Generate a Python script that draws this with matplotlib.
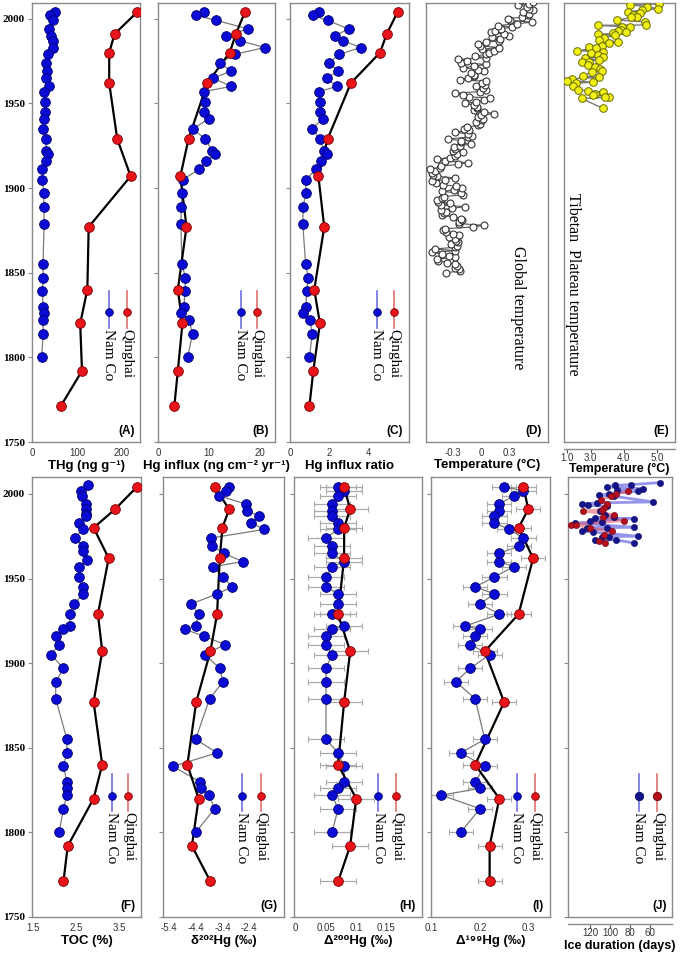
import matplotlib
matplotlib.use("Agg")
import matplotlib.pyplot as plt
import numpy as np

SANS = ["Liberation Sans", "DejaVu Sans"]
SERIF = ["Liberation Serif", "DejaVu Serif"]
plt.rcParams["font.family"] = SANS

# --- sediment core data ---
namco_years = [2004, 2002, 1999, 1994, 1990, 1987, 1983, 1979, 1974, 1969,
               1965, 1960, 1957, 1951, 1945, 1941, 1935, 1929, 1922, 1920,
               1916, 1911, 1905, 1897, 1889, 1879, 1855, 1847, 1839, 1830,
               1826, 1822, 1814, 1800]
qinghai_years = [2004, 1991, 1980, 1962, 1929, 1907, 1877, 1840, 1820, 1792, 1771]

thg_namco = [49.8, 40, 46, 36.4, 41.6, 46, 45.4, 35, 30.5, 32.7,
             30.5, 36.4, 25.3, 27.5, 27.5, 25.3, 23, 30.5, 30.5, 35,
             30.5, 22.3, 22.3, 25.3, 25.3, 26, 23.8, 23.8, 22.3, 23.8,
             25.3, 23.8, 23.8, 20.8]
thg_qinghai = [235, 184, 172, 172, 190, 220, 126, 123, 107, 111, 63]

influx_namco = [9.0, 7.5, 11.5, 17.7, 13.4, 16.1, 21.0, 15.1, 12.1, 14.4,
                10.8, 14.4, 9.0, 9.2, 9.0, 10.0, 6.9, 9.2, 10.7, 11.3,
                9.4, 8.0, 4.9, 4.7, 4.6, 4.5, 4.7, 5.4, 5.3, 5.1,
                4.5, 6.1, 6.8, 5.8]
influx_qinghai = [17.1, 15.3, 14.1, 9.7, 6.0, 4.4, 5.6, 3.9, 4.8, 3.9, 3.2]

ratio_namco = [1.50, 1.19, 1.92, 3.00, 2.30, 2.72, 3.61, 2.52, 2.01, 2.47,
               1.87, 2.38, 1.50, 1.53, 1.53, 1.70, 1.11, 1.53, 1.75, 1.87,
               1.58, 1.31, 0.82, 0.80, 0.68, 0.65, 0.80, 0.94, 0.85, 0.82,
               0.68, 1.02, 1.14, 0.99]
ratio_qinghai = [5.50, 4.94, 4.60, 3.11, 1.92, 1.45, 1.75, 1.24, 1.53, 1.19, 0.99]

toc_years = [2005, 2002, 1999, 1994, 1991, 1988, 1987, 1983, 1979, 1974,
             1969, 1966, 1961, 1957, 1951, 1945, 1941, 1935, 1929, 1922,
             1920, 1916, 1911, 1905, 1897, 1889, 1879, 1855, 1847, 1839,
             1830, 1826, 1822, 1814, 1800]
toc_namco = [2.78, 2.61, 2.63, 2.72, 2.72, 2.72, 2.72, 2.55, 2.65, 2.47,
             2.65, 2.65, 2.74, 2.55, 2.55, 2.65, 2.65, 2.45, 2.35, 2.35,
             2.20, 2.02, 2.10, 1.91, 2.20, 2.02, 2.02, 2.28, 2.28, 2.20,
             2.28, 2.28, 2.28, 2.20, 2.10]
toc_qinghai = [3.90, 3.40, 2.90, 3.25, 3.00, 3.10, 2.90, 3.10, 2.90, 2.30, 2.20]

d202_namco = [-3.15, -3.28, -3.54, -2.53, -2.50, -2.03, -2.34, -1.85, -3.81, -3.78,
              -3.35, -2.65, -3.75, -3.38, -3.03, -3.59, -4.56, -4.28, -4.40, -4.81,
              -4.10, -3.31, -4.06, -3.50, -3.38, -3.88, -4.40, -3.60, -5.25, -4.25,
              -4.21, -3.90, -3.69, -4.40]
d202_qinghai = [-3.69, -3.15, -3.40, -3.50, -3.60, -3.85, -4.38, -4.71, -4.29, -4.54, -3.85]

D200_namco = [0.07, 0.08, 0.07, 0.06, 0.06, 0.06, 0.07, 0.07, 0.05, 0.06,
              0.06, 0.08, 0.06, 0.05, 0.05, 0.07, 0.07, 0.06, 0.08, 0.06,
              0.05, 0.05, 0.06, 0.05, 0.05, 0.05, 0.05, 0.07, 0.08, 0.08,
              0.07, 0.06, 0.07, 0.06]
D200_qinghai = [0.08, 0.09, 0.08, 0.08, 0.07, 0.09, 0.08, 0.07, 0.10, 0.09, 0.07]
D200_err = 0.03

D199_namco = [0.25, 0.29, 0.27, 0.24, 0.24, 0.23, 0.23, 0.26, 0.29, 0.28,
              0.24, 0.24, 0.27, 0.23, 0.19, 0.23, 0.20, 0.24, 0.17, 0.20,
              0.19, 0.18, 0.22, 0.18, 0.15, 0.19, 0.21, 0.16, 0.21, 0.19,
              0.20, 0.12, 0.20, 0.16]
D199_qinghai = [0.29, 0.30, 0.28, 0.31, 0.28, 0.21, 0.25, 0.19, 0.24, 0.22, 0.22]
D199_err = 0.025

# --- global temperature anomaly, 1850-2012 ---
glob_years = list(range(1850, 2013))
glob_temp = [
    -0.37, -0.22, -0.23, -0.27, -0.25, -0.27, -0.36, -0.46, -0.47, -0.28,
    -0.34, -0.41, -0.52, -0.28, -0.49, -0.28, -0.25, -0.32, -0.24, -0.26,
    -0.28, -0.34, -0.23, -0.30, -0.37, -0.40, -0.38, -0.08, 0.03, -0.23,
    -0.23, -0.20, -0.21, -0.30, -0.41, -0.39, -0.37, -0.42, -0.31, -0.17,
    -0.42, -0.33, -0.46, -0.47, -0.41, -0.39, -0.19, -0.21, -0.41, -0.29,
    -0.20, -0.26, -0.40, -0.48, -0.52, -0.38, -0.28, -0.47, -0.51, -0.52,
    -0.49, -0.54, -0.44, -0.42, -0.24, -0.14, -0.38, -0.47, -0.33, -0.28,
    -0.25, -0.19, -0.30, -0.28, -0.29, -0.22, -0.11, -0.21, -0.21, -0.35,
    -0.14, -0.09, -0.14, -0.27, -0.13, -0.18, -0.15, -0.03, -0.01, -0.05,
    0.01, 0.02, -0.03, 0.00, 0.14, 0.03, -0.07, -0.04, -0.04, -0.07,
    -0.17, -0.05, 0.03, 0.10, -0.13, -0.19, -0.27, -0.01, 0.05, 0.02,
    -0.05, 0.04, 0.01, 0.05, -0.22, -0.14, -0.07, -0.07, -0.11, 0.03,
    -0.03, -0.19, -0.07, 0.06, -0.21, -0.15, -0.24, 0.05, -0.06, 0.06,
    0.09, 0.14, 0.01, 0.19, -0.01, -0.03, 0.05, 0.19, 0.20, 0.12,
    0.30, 0.25, 0.11, 0.15, 0.21, 0.33, 0.18, 0.39, 0.54, 0.31,
    0.29, 0.44, 0.50, 0.51, 0.45, 0.55, 0.51, 0.49, 0.40, 0.51,
    0.56, 0.43, 0.47]

# --- Tibetan Plateau temperature ---
tp_years = [2008.7, 2008.3, 2007.1, 2005.9, 2005.1, 2004.2, 2003.6, 2002.2, 2001.2, 2000.8,
            1999.2, 1998.2, 1996.3, 1996.1, 1995.3, 1994.9, 1993.3, 1992.7, 1992.3, 1991.3,
            1990.8, 1990.2, 1988.8, 1987.4, 1986.4, 1985.4, 1983.9, 1983.5, 1982.5, 1981.1,
            1980.5, 1979.9, 1978.4, 1977.6, 1976.6, 1975.6, 1974.6, 1974.2, 1972.4, 1971.6,
            1970.6, 1969.3, 1968.7, 1966.1, 1965.3, 1964.6, 1963.4, 1962.6, 1961.8, 1960.2,
            1958.2, 1957.5, 1956.7, 1955.5, 1955.1, 1953.9, 1953.5, 1952.9, 1947.0]
tp_temp = [5.07, 4.18, 4.70, 5.03, 4.56, 4.13, 4.48, 4.28, 4.40, 4.23,
           3.80, 4.64, 4.67, 3.21, 3.96, 4.18, 3.91, 3.83, 4.08, 3.68,
           3.23, 3.73, 3.41, 3.26, 3.81, 3.56, 3.33, 2.96, 3.16, 2.58,
           3.38, 3.01, 3.21, 3.36, 2.83, 3.26, 2.73, 2.96, 2.93, 3.13,
           3.29, 3.33, 3.03, 2.78, 3.26, 2.43, 2.28, 3.06, 2.55, 2.48,
           2.63, 2.91, 3.36, 3.13, 3.08, 3.56, 3.43, 2.73, 3.38]

# --- lake ice duration ---
ice_namco_years = [2006.7, 2005.5, 2005.1, 2004.1, 2003.1, 2002.6, 2001.6, 2000.2, 1999.2, 1998.6,
                   1995.3, 1994.7, 1994.1, 1993.3, 1992.7, 1989.8, 1987.8, 1986.2, 1985.8, 1985.4,
                   1984.2, 1983.4, 1982.9, 1980.3, 1979.9, 1979.7, 1977.9, 1977.5, 1975.0, 1974.8,
                   1974.4, 1973.0, 1972.8, 1971.0]
ice_namco_days = [50, 79, 95, 103, 67, 93, 72, 101, 111, 96,
                  57, 113, 128, 122, 103, 110, 105, 96, 115, 76,
                  120, 108, 135, 76, 123, 103, 128, 117, 72, 108,
                  101, 115, 94, 76]
ice_qinghai_years = [2001.6, 2000.0, 1998.6, 1996.6, 1994.1, 1991.7, 1990.7, 1989.8, 1987.8, 1986.2,
                     1984.2, 1981.9, 1981.6, 1979.9, 1977.9, 1976.0, 1972.0, 1971.0]
ice_qinghai_days = [82, 94, 99, 109, 103, 106, 108, 127, 96, 107,
                    86, 139, 134, 120, 98, 106, 111, 105]

# --- styling ---
FRAME = "#8a8a8a"
BLUE, BLUE_EDGE = "#0b0bd6", "#00006e"
RED, RED_EDGE = "#e8141a", "#7a0000"
W, H = 685, 956

fig = plt.figure(figsize=(W / 100, H / 100), dpi=100)


def panel(x0, x1, y0, y1):
    ax = fig.add_axes([x0 / W, 1 - y1 / H, (x1 - x0) / W, (y1 - y0) / H])
    for s in ax.spines.values():
        s.set_color(FRAME)
        s.set_linewidth(1.0)
    ax.tick_params(axis="x", length=0, pad=4, labelsize=7, labelcolor="#333333")
    ax.tick_params(axis="y", direction="out", length=3, color=FRAME, labelleft=False)
    ax.set_yticks(range(1750, 2001, 50))
    return ax


def year_labels(ax):
    ax.tick_params(axis="y", labelleft=True, labelsize=8, pad=2)
    for lbl in ax.get_yticklabels():
        lbl.set_fontfamily(SERIF)
        lbl.set_fontweight("bold")


def cores(ax, yn, vn, vq, err=None):
    if err is not None:
        ax.errorbar(vn, yn, xerr=err, fmt="none", ecolor="#ababab", elinewidth=0.9,
                    capsize=2, capthick=0.8, zorder=1)
        ax.errorbar(vq, qinghai_years, xerr=err, fmt="none", ecolor="#ababab",
                    elinewidth=0.9, capsize=2, capthick=0.8, zorder=1)
    ax.plot(vn, yn, "-", color="#7a7a7a", lw=0.9, zorder=2)
    ax.plot(vq, qinghai_years, "-", color="black", lw=1.6, zorder=3)
    ax.plot(vn, yn, "o", ms=7, mfc=BLUE, mec=BLUE_EDGE, mew=0.6, zorder=4)
    ax.plot(vq, qinghai_years, "o", ms=7, mfc=RED, mec=RED_EDGE, mew=0.6, zorder=5)


def station_key(ax, xr, xb, y, ms=5.5, mcols=((RED, RED_EDGE), (BLUE, BLUE_EDGE))):
    items = [(xr, "#e07070", mcols[0], "Qinghai"), (xb, "#7070e0", mcols[1], "Nam Co")]
    for x, lc, (fc, ec), label in items:
        ax.plot([x, x], [y - 0.035, y + 0.05], transform=ax.transAxes, color=lc,
                lw=1.2, clip_on=False, zorder=6)
        ax.plot([x], [y], "o", transform=ax.transAxes, ms=ms, mfc=fc, mec=ec,
                mew=0.6, zorder=7)
        ax.text(x, y - 0.038, label, transform=ax.transAxes, rotation=270,
                ha="center", va="top", family=SERIF, fontsize=11, zorder=7)


def tag(ax, s):
    ax.text(0.95, 0.012, s, transform=ax.transAxes, ha="right", va="bottom",
            fontweight="bold", fontsize=8.5)


def xlab(ax, s, pad=2, size=9.5):
    ax.set_xlabel(s, fontweight="bold", fontsize=size, labelpad=pad, family=SANS)


def double_bottom(ax):
    ax.spines["bottom"].set_position(("outward", 5))
    ax.plot([0, 1], [0, 0], transform=ax.transAxes, color=FRAME, lw=1.0, clip_on=False)
    ax.tick_params(axis="x", length=3, direction="out", color="#555555", pad=0)


TOP = (3, 442)
BOT = (477, 917)

# (A) THg
ax = panel(32, 140, *TOP)
cores(ax, namco_years, thg_namco, thg_qinghai)
ax.set_xlim(-1, 241)
ax.set_xticks([0, 100, 200])
ax.set_ylim(1750, 2009.3)
year_labels(ax)
station_key(ax, 0.877, 0.71, 0.295)
xlab(ax, "THg (ng g⁻¹)")
tag(ax, "(A)")

# (B) Hg influx
ax = panel(158, 275, *TOP)
cores(ax, namco_years, influx_namco, influx_qinghai)
ax.set_xlim(0, 23)
ax.set_xticks([0, 10, 20])
ax.set_ylim(1750, 2009.3)
station_key(ax, 0.842, 0.706, 0.295)
xlab(ax, "Hg influx (ng cm⁻² yr⁻¹)")
tag(ax, "(B)")

# (C) Hg influx ratio
ax = panel(290, 409, *TOP)
cores(ax, namco_years, ratio_namco, ratio_qinghai)
ax.set_xlim(0, 6.08)
ax.set_xticks([0, 2, 4])
ax.set_ylim(1750, 2009.3)
station_key(ax, 0.874, 0.729, 0.295)
xlab(ax, "Hg influx ratio")
tag(ax, "(C)")

# (D) global temperature
ax = panel(426, 548, *TOP)
ax.plot(glob_temp, glob_years, "-", color="#555555", lw=0.8, zorder=2)
ax.plot(glob_temp, glob_years, "o", ms=5, mfc="white", mec="#333333", mew=0.8, zorder=3)
ax.set_xlim(-0.584, 0.715)
ax.set_xticks([-0.3, 0, 0.3])
ax.set_xticklabels(["-0.3", "0", "0.3"])
ax.set_yticks([])
ax.set_ylim(1750, 2009.3)
ax.text(0.757, 0.307, "Global temperature", transform=ax.transAxes, rotation=270,
        ha="center", va="center", family=SERIF, fontsize=11.5)
xlab(ax, "Temperature (°C)", pad=1)
tag(ax, "(D)")

# (E) Tibetan Plateau temperature
ax = panel(564, 675, *TOP)
ax.plot(tp_temp, tp_years, "-", color="#7a7a7a", lw=1.0, zorder=2)
ax.plot(tp_temp, tp_years, "o", ms=5.5, mfc="#f0f016", mec="#6b6b00", mew=0.7, zorder=3)
ax.set_xlim(2.2, 5.54)
ax.set_xticks([2.28, 3, 4, 5])
ax.set_xticklabels(["1.0", "3.0", "4.0", "5.0"])
ax.set_yticks([])
ax.set_ylim(1750, 2009.3)
double_bottom(ax)
ax.text(0.085, 0.36, "Tibetan  Plateau temperature", transform=ax.transAxes, rotation=270,
        ha="center", va="center", family=SERIF, fontsize=11.5)
xlab(ax, "Temperature (°C)", pad=0, size=9)
tag(ax, "(E)")

# (F) TOC
ax = panel(32, 141, *BOT)
ax.plot(toc_namco, toc_years, "-", color="#7a7a7a", lw=0.9, zorder=2)
ax.plot(toc_qinghai, qinghai_years, "-", color="black", lw=1.6, zorder=3)
ax.plot(toc_namco, toc_years, "o", ms=7, mfc=BLUE, mec=BLUE_EDGE, mew=0.6, zorder=4)
ax.plot(toc_qinghai, qinghai_years, "o", ms=7, mfc=RED, mec=RED_EDGE, mew=0.6, zorder=5)
ax.set_xlim(1.47, 4.0)
ax.set_xticks([1.5, 2.5, 3.5])
ax.set_ylim(1750, 2010)
year_labels(ax)
station_key(ax, 0.885, 0.73, 0.276)
xlab(ax, "TOC (%)")
tag(ax, "(F)")

# (G) d202Hg
ax = panel(163, 284, *BOT)
cores(ax, namco_years, d202_namco, d202_qinghai)
ax.set_xlim(-5.62, -1.1)
ax.set_xticks([-5.4, -4.4, -3.4, -2.4])
ax.set_xticklabels(["-5.4", "-4.4", "-3.4", "-2.4"])
ax.set_ylim(1750, 2010)
station_key(ax, 0.81, 0.65, 0.276)
xlab(ax, "δ²⁰²Hg (‰)")
tag(ax, "(G)")

# (H) D200Hg
ax = panel(294, 422, *BOT)
cores(ax, namco_years, D200_namco, D200_qinghai, err=D200_err)
ax.set_xlim(-0.003, 0.209)
ax.set_xticks([0, 0.05, 0.1, 0.15])
ax.set_xticklabels(["0", "0.05", "0.1", "0.15"])
ax.set_ylim(1750, 2010)
station_key(ax, 0.80, 0.66, 0.276)
xlab(ax, "Δ²⁰⁰Hg (‰)")
tag(ax, "(H)")

# (I) D199Hg
ax = panel(431, 550, *BOT)
cores(ax, namco_years, D199_namco, D199_qinghai, err=D199_err)
ax.set_xlim(0.0986, 0.345)
ax.set_xticks([0.1, 0.2, 0.3])
ax.set_ylim(1750, 2010)
station_key(ax, 0.87, 0.72, 0.276)
xlab(ax, "Δ¹⁹⁹Hg (‰)")
tag(ax, "(I)")

# (J) ice duration
ax = panel(568, 672, *BOT)
ax.plot(ice_namco_days, ice_namco_years, "-", color="#3c3cd8", alpha=0.55, lw=2.0, zorder=2)
ax.plot(ice_qinghai_days, ice_qinghai_years, "-", color="#e05060", alpha=0.55, lw=2.0, zorder=2)
ax.plot(ice_namco_days, ice_namco_years, "o", ms=4.5, mfc="#14148c", mec="#0a0a60", mew=0.4, zorder=3)
ax.plot(ice_qinghai_days, ice_qinghai_years, "o", ms=4.5, mfc="#b4101e", mec="#700010", mew=0.4, zorder=4)
ax.set_xlim(142, 38)
ax.set_xticks([120, 100, 80, 60])
ax.set_ylim(1750, 2010)
double_bottom(ax)
station_key(ax, 0.86, 0.68, 0.276, ms=6,
            mcols=(("#b4101e", "#700010"), ("#14148c", "#0a0a60")))
xlab(ax, "Ice duration (days)", pad=1, size=9)
tag(ax, "(J)")

fig.savefig("out.png", dpi=100)
